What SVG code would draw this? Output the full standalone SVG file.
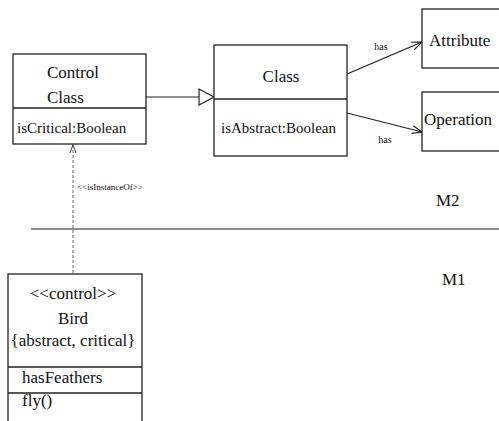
<svg xmlns="http://www.w3.org/2000/svg" width="499" height="421" viewBox="0 0 499 421">
  <defs>
    <style>
      .box { fill: #fff; stroke: #222; stroke-width: 1.3; }
      .div { stroke: #222; stroke-width: 1.3; fill: none; }
      .t { font-family: "Liberation Serif", "Times New Roman", serif; fill: #111; }
      .name { font-size: 17px; }
      .attr { font-size: 15px; }
      .small { font-size: 10px; }
      .tiny { font-size: 9px; }
      .conn { stroke: #222; stroke-width: 1.2; fill: none; }
      .dash { stroke: #666; stroke-width: 1; stroke-dasharray: 3 2; fill: none; }
    </style>
    <marker id="open" viewBox="0 0 10 10" refX="10" refY="5" markerWidth="10" markerHeight="10" markerUnits="userSpaceOnUse" orient="auto">
      <path d="M0,1 L10,5 L0,9" fill="none" stroke="#222" stroke-width="1.2"/>
    </marker>
  </defs>

  <!-- level separator -->
  <line x1="31" y1="229" x2="499" y2="229" stroke="#666" stroke-width="1.6"/>
  <text class="t name" x="436" y="206">M2</text>
  <text class="t name" x="442" y="285">M1</text>

  <g id="connectors">
    <!-- generalization -->
    <line class="conn" x1="146" y1="97" x2="199" y2="97"/>
    <polygon points="199,89 214,97 199,105" fill="#fff" stroke="#222" stroke-width="1.2"/>
    <!-- associations -->
    <line class="conn" x1="347" y1="74" x2="422" y2="42" marker-end="url(#open)"/>
    <text class="t small" x="381" y="50" text-anchor="middle">has</text>
    <line class="conn" x1="347" y1="113" x2="422" y2="132" marker-end="url(#open)"/>
    <text class="t small" x="385" y="143" text-anchor="middle">has</text>
    <!-- instance-of dependency -->
    <line class="dash" x1="73" y1="145" x2="73" y2="274"/>
    <path d="M70,153 L73,144.5 L76,153" fill="none" stroke="#444" stroke-width="1"/>
    <text class="t tiny" x="77" y="190">&lt;&lt;isInstanceOf&gt;&gt;</text>
  </g>

  <g id="control-class">
    <rect class="box" x="13" y="54" width="133" height="90"/>
    <line class="div" x1="13" y1="108" x2="146" y2="108"/>
    <text class="t name" x="47" y="78">Control</text>
    <text class="t name" x="47" y="103">Class</text>
    <text class="t attr" x="17" y="133">isCritical:Boolean</text>
  </g>

  <g id="class">
    <rect class="box" x="214" y="45" width="133" height="111"/>
    <line class="div" x1="214" y1="99" x2="347" y2="99"/>
    <text class="t name" x="281" y="82" text-anchor="middle">Class</text>
    <text class="t attr" x="221" y="133">isAbstract:Boolean</text>
  </g>

  <g id="attribute">
    <rect class="box" x="422" y="9" width="80" height="59"/>
    <text class="t name" x="429" y="46">Attribute</text>
  </g>

  <g id="operation">
    <rect class="box" x="422" y="92" width="80" height="59"/>
    <text class="t name" x="424" y="125">Operation</text>
  </g>

  <g id="bird">
    <rect class="box" x="8" y="274" width="134" height="160"/>
    <line class="div" x1="8" y1="367" x2="142" y2="367"/>
    <line class="div" x1="8" y1="393" x2="142" y2="393"/>
    <text class="t name" x="73" y="299" text-anchor="middle">&lt;&lt;control&gt;&gt;</text>
    <text class="t name" x="73" y="324" text-anchor="middle">Bird</text>
    <text class="t name" x="73" y="346" text-anchor="middle">{abstract, critical}</text>
    <text class="t name" x="22" y="383">hasFeathers</text>
    <text class="t name" x="22" y="406">fly()</text>
  </g>
</svg>
